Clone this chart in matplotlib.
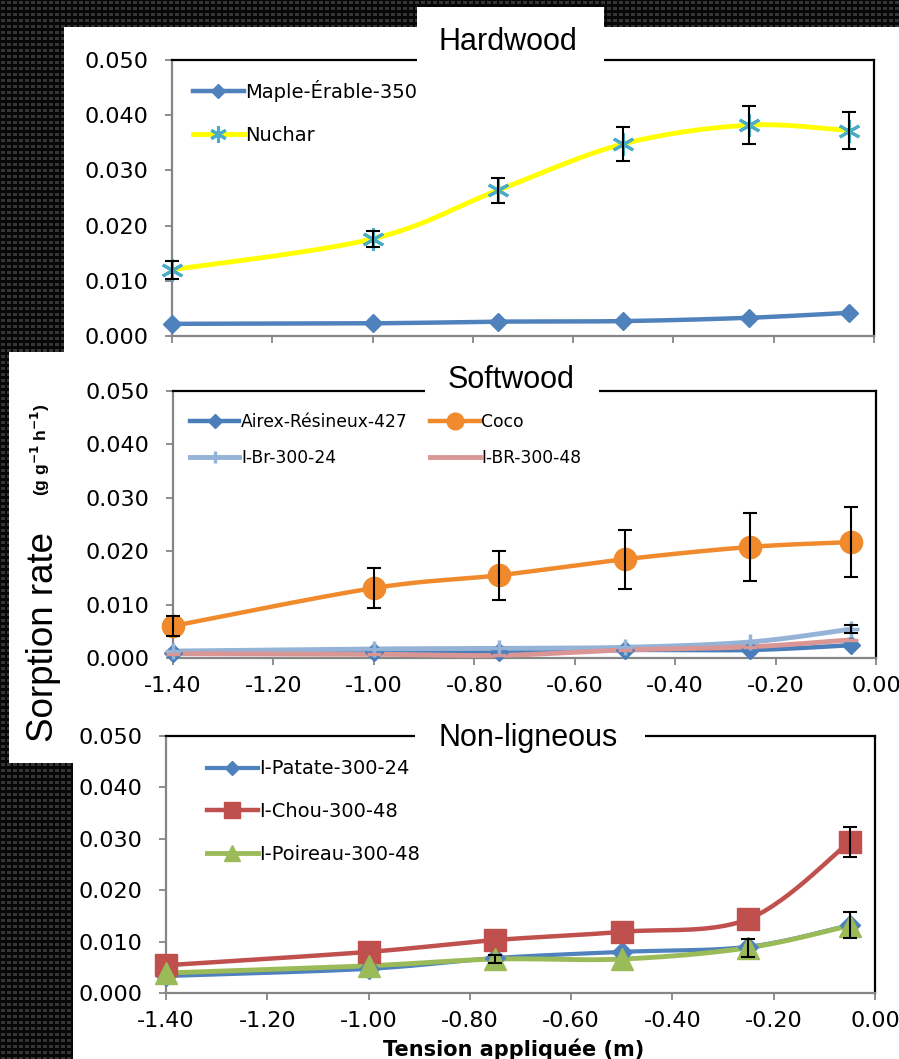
import numpy as np
import matplotlib
matplotlib.use("Agg")
import matplotlib.pyplot as plt
from matplotlib.patches import Rectangle
from matplotlib.lines import Line2D

W, H = 899, 1059

# tension (m) at which each rate was measured
tension = [-1.40, -1.00, -0.75, -0.50, -0.25, -0.05]

# Hardwood
maple = [0.0022, 0.0023, 0.0026, 0.0027, 0.0033, 0.0042]
nuchar = [0.0120, 0.0176, 0.0264, 0.0348, 0.0382, 0.0372]
nuchar_err = [0.0016, 0.0015, 0.0023, 0.0031, 0.0034, 0.0034]

# Softwood
airex = [0.0010, 0.0011, 0.0011, 0.0015, 0.0015, 0.0024]
coco = [0.0060, 0.0131, 0.0155, 0.0185, 0.0208, 0.0217]
coco_err = [0.0019, 0.0037, 0.0046, 0.0055, 0.0063, 0.0066]
ibr24 = [0.0013, 0.0017, 0.0018, 0.0020, 0.0030, 0.0054]
ibr24_err = [0, 0, 0, 0, 0, 0.0008]
ibr48 = [0.0008, 0.0007, 0.0005, 0.0015, 0.0021, 0.0034]

# Non-ligneous
patate = [0.0033, 0.0047, 0.0068, 0.0080, 0.0090, 0.0132]
patate_err = [0, 0, 0, 0, 0, 0.0025]
chou = [0.0054, 0.0080, 0.0103, 0.0119, 0.0144, 0.0294]
chou_err = [0, 0, 0, 0, 0, 0.0029]
poireau = [0.0039, 0.0053, 0.0066, 0.0066, 0.0088, 0.0131]
poireau_err = [0, 0, 0.0008, 0, 0.0017, 0]

x_ticks = [-1.4, -1.2, -1.0, -0.8, -0.6, -0.4, -0.2, 0.0]
y_ticks = [0.0, 0.01, 0.02, 0.03, 0.04, 0.05]

TICK_FONT = "DejaVu Sans"
TITLE_FONT = "Liberation Sans"
GREY = "#868686"


def px(x, y):
    return x / W, 1 - y / H


def box(x0, y0, x1, y1):
    # pixel rectangle -> axes position in figure fraction
    return [x0 / W, 1 - y1 / H, (x1 - x0) / W, (y1 - y0) / H]


def smooth(xs, ys, n=30):
    # excel style smoothed line (bezier through the points)
    p = np.column_stack([xs, ys])
    p = np.vstack([p[0], p, p[-1]])
    segs = []
    t = np.linspace(0, 1, n)[:, None]
    for i in range(1, len(p) - 2):
        p0, p1, p2, p3 = p[i - 1], p[i], p[i + 1], p[i + 2]
        c1 = p1 + (p2 - p0) / 6
        c2 = p2 - (p3 - p1) / 6
        segs.append((1 - t) ** 3 * p1 + 3 * (1 - t) ** 2 * t * c1
                    + 3 * (1 - t) * t ** 2 * c2 + t ** 3 * p2)
    c = np.vstack(segs)
    return c[:, 0], c[:, 1]


def series(ax, y, color, lw, marker, ms, mfc=None, mew=1, err=None):
    sx, sy = smooth(tension, y)
    ax.plot(sx, sy, color=color, lw=lw, solid_capstyle="round", zorder=3, clip_on=False)
    if err is not None:
        idx = [i for i, e in enumerate(err) if e > 0]
        ax.errorbar([tension[i] for i in idx], [y[i] for i in idx],
                    yerr=[err[i] for i in idx], fmt="none", ecolor="black",
                    elinewidth=1.5, capsize=4.7, capthick=1.5, zorder=5, clip_on=False)
    ax.plot(tension, y, ls="none", marker=marker, ms=ms,
            mfc=mfc or color, mec=mfc or color, mew=mew, zorder=4, clip_on=False)
    return Line2D([], [], color=color, lw=lw, marker=marker, ms=ms * 0.75,
                  mfc=mfc or color, mec=mfc or color, mew=mew)


def setup(ax, xlabels=True):
    ax.set_facecolor("none")
    ax.set_xlim(-1.4, 0)
    ax.set_ylim(0, 0.05)
    ax.set_xticks(x_ticks)
    ax.set_yticks(y_ticks)
    ax.set_xticklabels([f"{abs(v):.2f}" if abs(v) < 1e-9 else f"{v:.2f}" for v in x_ticks])
    ax.set_yticklabels([f"{v:.3f}" for v in y_ticks])
    for s in ["left", "bottom"]:
        ax.spines[s].set_color(GREY)
        ax.spines[s].set_linewidth(1.6)
    for s in ["top", "right"]:
        ax.spines[s].set_color("black")
        ax.spines[s].set_linewidth(1.6)
    ax.tick_params(direction="out", length=5, width=1.3, color=GREY, labelsize=16)
    ax.tick_params(axis="y", pad=12)
    ax.tick_params(axis="x", pad=8, labelbottom=xlabels)
    for lab in ax.get_xticklabels() + ax.get_yticklabels():
        lab.set_family(TICK_FONT)


fig = plt.figure(figsize=(W / 100, H / 100), dpi=100)
fig.patch.set_facecolor("black")

# dark textured backdrop
yy, xx = np.mgrid[0:H, 0:W]
bg = np.where(((xx % 6) >= 1) & ((xx % 6) <= 4) & ((yy % 6) >= 1) & ((yy % 6) <= 3), 0.21, 0.03)
fig.figimage(np.dstack([bg, bg, bg]), xo=0, yo=0, origin="upper", zorder=-5)

# white panels
for x0, y0, x1, y1 in [(64, 27, 899, 352), (9, 352, 899, 763), (73, 700, 899, 1059)]:
    fig.add_artist(Rectangle(px(x0, y1), (x1 - x0) / W, (y1 - y0) / H,
                             transform=fig.transFigure, facecolor="white",
                             edgecolor="none", zorder=-2))

ax1 = fig.add_axes(box(172, 60, 874, 336))
ax2 = fig.add_axes(box(173, 391, 876, 658))
ax3 = fig.add_axes(box(166, 736, 875, 993))
setup(ax1, xlabels=False)
setup(ax2)
setup(ax3)

# Hardwood
h1 = series(ax1, maple, "#4F81BD", 3.2, "D", 9.5)
h2 = series(ax1, nuchar, "#FFFF00", 3.5, (6, 2, 0), 16, mfc="#4BACC6", mew=2.2, err=nuchar_err)
ax1.legend([h1, h2], ["Maple-Érable-350", "Nuchar"], loc="upper left",
           bbox_to_anchor=(0.03, 0.928), frameon=False,
           handlelength=2.6, handletextpad=0.1, labelspacing=1.25,
           borderpad=0, borderaxespad=0, prop={"family": TICK_FONT, "size": 14})

# Softwood
s1 = series(ax2, airex, "#4A7EBB", 3.2, "D", 9.5)
s2 = series(ax2, ibr24, "#95B3D7", 3.5, "+", 11, mew=2.5, err=ibr24_err)
s3 = series(ax2, coco, "#F08A2C", 3.2, "o", 16, err=coco_err)
s4 = series(ax2, ibr48, "#DA9694", 3.5, "_", 10, mew=2.5)
ax2.legend([s1, s2, s3, s4], ["Airex-Résineux-427", "I-Br-300-24", "Coco", "I-BR-300-48"],
           ncol=2, loc="upper left", bbox_to_anchor=(0.024, 0.916), frameon=False,
           handlelength=2.9, handletextpad=0.1, labelspacing=1.0, columnspacing=1.3,
           borderpad=0, borderaxespad=0, prop={"family": TICK_FONT, "size": 12.3})

# Non-ligneous
n1 = series(ax3, patate, "#4F81BD", 3.0, "D", 10, err=patate_err)
n2 = series(ax3, chou, "#C0504D", 3.2, "s", 16, err=chou_err)
n3 = series(ax3, poireau, "#9BBB59", 3.5, "^", 16, err=poireau_err)
ax3.legend([n1, n2, n3], ["I-Patate-300-24", "I-Chou-300-48", "I-Poireau-300-48"],
           loc="upper left", bbox_to_anchor=(0.058, 0.909), frameon=False,
           handlelength=2.6, handletextpad=0.1, labelspacing=1.23,
           borderpad=0, borderaxespad=0, prop={"family": TICK_FONT, "size": 14})

# title boxes that break the top frame line
for x0, y0, x1, y1 in [(417, 7, 604, 63), (425, 360, 599, 395), (415, 720, 645, 740)]:
    fig.add_artist(Rectangle(px(x0, y1), (x1 - x0) / W, (y1 - y0) / H,
                             transform=fig.transFigure, facecolor="white",
                             edgecolor="none", zorder=1))

for label, cx, base in [("Hardwood", 508, 50), ("Softwood", 511, 388), ("Non-ligneous", 528, 746)]:
    fig.text(*px(cx, base), label, ha="center", va="baseline", fontsize=22,
             family=TITLE_FONT, zorder=3)

fig.text(*px(44, 637), "Sorption rate", rotation=90, ha="center", va="center",
         fontsize=26.5, family=TITLE_FONT)
fig.text(*px(40, 450), r"(g g$^{\mathbf{-1}}$ h$^{\mathbf{-1}}$)", rotation=90,
         ha="center", va="center", fontsize=12.5, fontweight="bold", family=TITLE_FONT)
fig.text(*px(514, 1049), "Tension appliquée (m)", ha="center", va="center",
         fontsize=15, fontweight="bold", family=TICK_FONT)

fig.savefig("out.png", dpi=100, facecolor=fig.get_facecolor())
